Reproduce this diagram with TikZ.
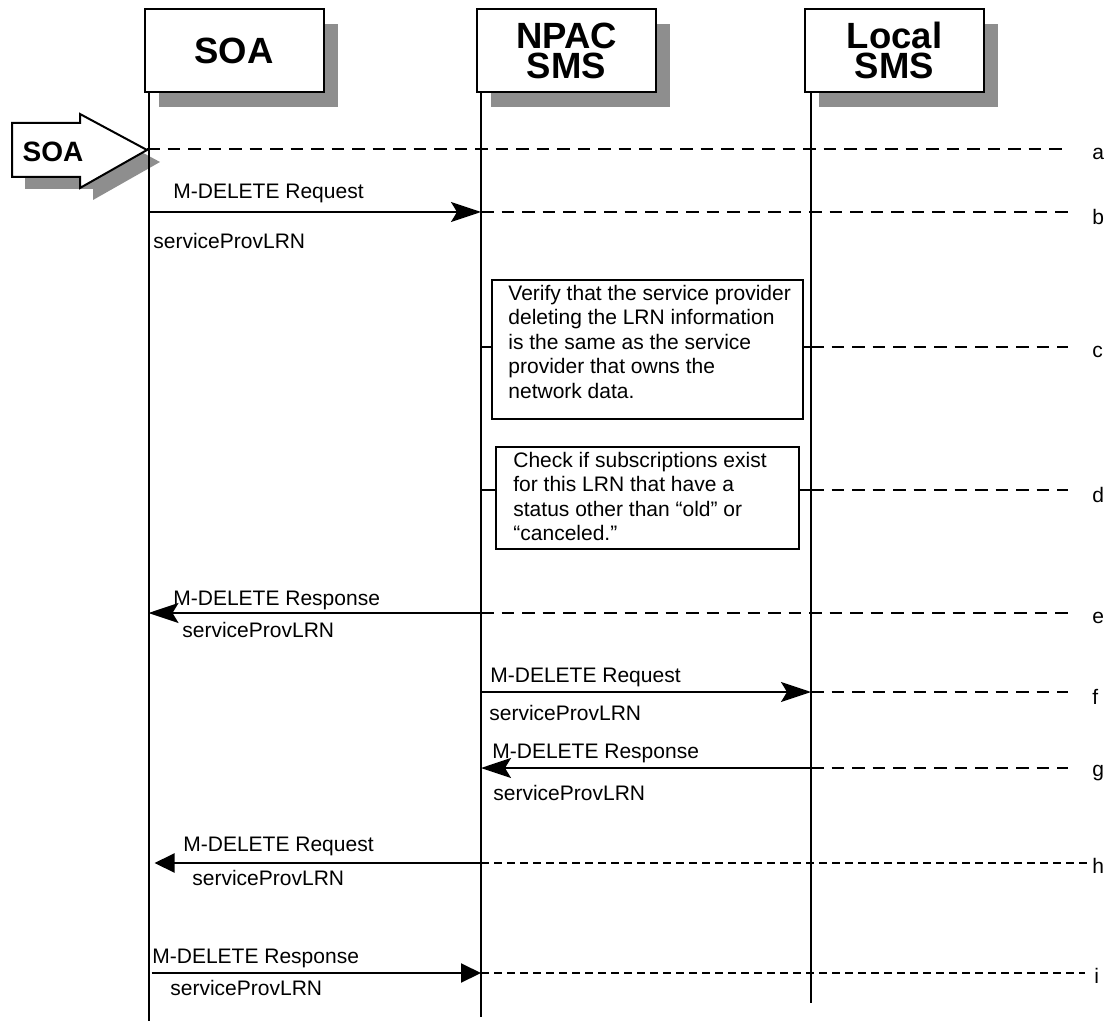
\documentclass[tikz,border=0pt]{standalone}
\usepackage{fontspec}
\setmainfont{Liberation Sans}
\usetikzlibrary{arrows.meta,positioning,shadows}
\definecolor{shadegray}{HTML}{8E8E8E}

\tikzset{
  actor/.style={draw, line width=1pt, fill=white, minimum width=89.5pt, minimum height=41.5pt,
    align=center, font=\bfseries\fontsize{18.25}{15}\selectfont,
    drop shadow={shadow xshift=7pt, shadow yshift=-7.5pt, fill=shadegray, opacity=1}},
  life/.style={line width=1pt},
  msg/.style={line width=1pt, -{Stealth[length=15pt,width=10pt,inset=3pt]}},
  msgtri/.style={line width=1pt, -{Triangle[length=10pt,width=9.5pt]}},
  guide/.style={line width=1pt, dash pattern=on 6.25pt off 4pt},
  guidethin/.style={line width=0.75pt, dash pattern=on 4pt off 2.5pt},
  lbl/.style={inner sep=0pt, font=\fontsize{10.5}{12.25}\selectfont},
  notebox/.style={draw, line width=1pt, anchor=north west},
}

\begin{document}
\begin{tikzpicture}[x=0.5pt, y=-0.5pt]
\useasboundingbox (0,0) rectangle (1107,1021);

% Start arrow for SOA
\path[fill=shadegray, shift={(13,12)}] (12,123) -- (80,123) -- (80,114) -- (147,150)
  -- (80,188) -- (80,177) -- (12,177) -- cycle;
\draw[line width=1pt, fill=white] (12,123) -- (80,123) -- (80,114) -- (147,150)
  -- (80,188) -- (80,177) -- (12,177) -- cycle;
\node[font=\bfseries\fontsize{14}{14}\selectfont] (start) at (53,152) {SOA};
\coordinate (tip) at (147,149);

% Actors
\node[actor] (soa) at (234,50.5) {SOA};
\node[actor] (npac) at (566.5,50.5) {NPAC\\SMS};
\node[actor] (lsms) at (894.5,50.5) {Local\\SMS};

% Lifelines
\coordinate (soaL) at ([xshift=2.5pt]soa.south west);
\coordinate (npacL) at ([xshift=2.5pt]npac.south west);
\coordinate (lsmsL) at ([xshift=3.5pt]lsms.south west);
\coordinate (soaEnd) at (150,1021);
\coordinate (npacEnd) at (482,1017);
\coordinate (lsmsEnd) at (812,1003);
\draw[life] (soaL) -- (soaL |- soaEnd);
\draw[life] (npacL) -- (npacL |- npacEnd);
\draw[life] (lsmsL) -- (lsmsL |- lsmsEnd);

% Row ends and letters
\foreach \r/\y in {a/149,b/212,c/347,d/490,e/613,f/692,g/768} {
  \coordinate (r\r) at (1068,\y);
  \node[lbl, anchor=west] (l\r) at (1092,\y+5) {\r};
}
\coordinate (rh) at (1090,863);
\node[lbl, anchor=west] (lh) at (1092,866) {h};
\coordinate (ri) at (1085,973);
\node[lbl, anchor=west] (li) at (1094,976) {i};

% a
\draw[guide] (tip) -- (ra);

% b
\draw[msg] (soaL |- rb) -- (npacL |- rb);
\draw[guide] (npacL |- rb) -- (rb);
\node[lbl, anchor=west] (bq) at (173,193) {M-DELETE Request};
\node[lbl, anchor=west] (bp) at (153,241) {serviceProvLRN};

% c
\node[notebox, minimum width=155.5pt, minimum height=69.5pt] (chk1) at (491,279) {};
\node[lbl, anchor=north west, align=left] (chk1t) at (508,284.5)
  {Verify that the service provider\\deleting the LRN information\\is the same as the service\\provider that owns the\\network data.};
\draw[life] (npacL |- rc) -- (rc -| chk1.west);
\draw[life] (rc -| chk1.east) -- (lsmsL |- rc);
\draw[guide] (lsmsL |- rc) -- (rc);

% d
\node[notebox, minimum width=151.5pt, minimum height=51pt] (chk2) at (495,446) {};
\node[lbl, anchor=north west, align=left] (chk2t) at (513,451.5)
  {Check if subscriptions exist\\for this LRN that have a\\status other than “old” or\\“canceled.”};
\draw[life] (npacL |- rd) -- (rd -| chk2.west);
\draw[life] (rd -| chk2.east) -- (lsmsL |- rd);
\draw[guide] (lsmsL |- rd) -- (rd);

% e
\draw[msg] (npacL |- re) -- (soaL |- re);
\draw[guide] (npacL |- re) -- (re);
\node[lbl, anchor=west] (eq) at (173,600) {M-DELETE Response};
\node[lbl, anchor=west] (ep) at (182,630) {serviceProvLRN};

% f
\draw[msg] (npacL |- rf) -- (lsmsL |- rf);
\draw[guide] (lsmsL |- rf) -- (rf);
\node[lbl, anchor=west] (fq) at (490,677) {M-DELETE Request};
\node[lbl, anchor=west] (fp) at (489,713) {serviceProvLRN};

% g
\draw[msg] (lsmsL |- rg) -- (npacL |- rg);
\draw[guide] (lsmsL |- rg) -- (rg);
\node[lbl, anchor=west] (gq) at (492,753) {M-DELETE Response};
\node[lbl, anchor=west] (gp) at (493,793) {serviceProvLRN};

% h
\draw[msgtri] (npacL |- rh) -- ([xshift=3pt]soaL |- rh);
\draw[guidethin] (npacL |- rh) -- (rh);
\node[lbl, anchor=west] (hq) at (183,846) {M-DELETE Request};
\node[lbl, anchor=west] (hp) at (192,878) {serviceProvLRN};

% i
\draw[msgtri] ([xshift=1.5pt]soaL |- ri) -- (npacL |- ri);
\draw[guidethin] (npacL |- ri) -- (ri);
\node[lbl, anchor=west] (iq) at (152,958) {M-DELETE Response};
\node[lbl, anchor=west] (ip) at (170,988) {serviceProvLRN};
\end{tikzpicture}
\end{document}
